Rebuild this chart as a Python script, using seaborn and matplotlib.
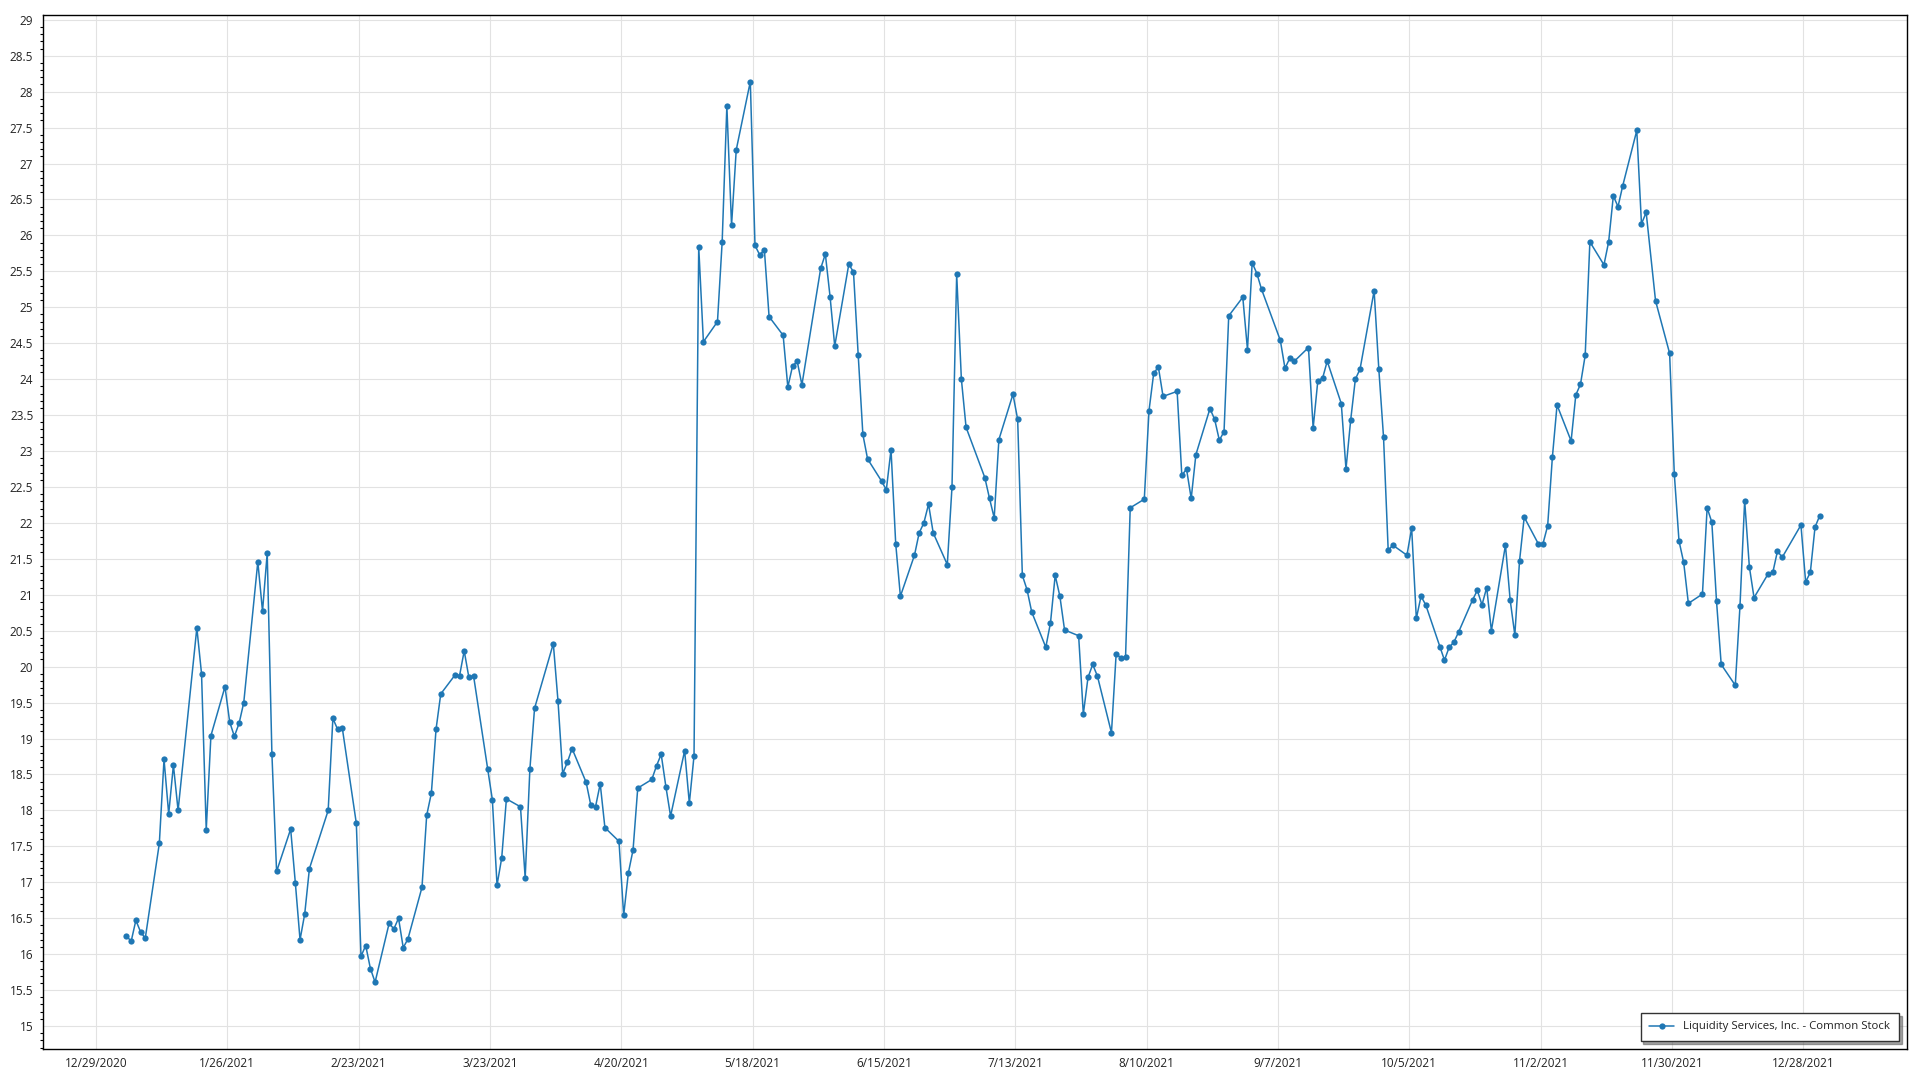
import datetime as dt

import matplotlib
matplotlib.use("Agg")
import matplotlib.pyplot as plt
import matplotlib.dates as mdates
from matplotlib.ticker import FuncFormatter, MultipleLocator
import pandas as pd
import seaborn as sns

SERIES_NAME = "Liquidity Services, Inc. - Common Stock"

# trading days of 2021 (month/day) and closing prices
dates = [
    "1/4", "1/5", "1/6", "1/7", "1/8", "1/11", "1/12", "1/13", "1/14", "1/15",
    "1/19", "1/20", "1/21", "1/22", "1/25", "1/26", "1/27", "1/28", "1/29",
    "2/1", "2/2", "2/3", "2/4", "2/5", "2/8", "2/9", "2/10", "2/11", "2/12",
    "2/16", "2/17", "2/18", "2/19", "2/22", "2/23", "2/24", "2/25", "2/26",
    "3/1", "3/2", "3/3", "3/4", "3/5", "3/8", "3/9", "3/10", "3/11", "3/12",
    "3/15", "3/16", "3/17", "3/18", "3/19", "3/22", "3/23", "3/24", "3/25", "3/26",
    "3/29", "3/30", "3/31",
    "4/1", "4/5", "4/6", "4/7", "4/8", "4/9", "4/12", "4/13", "4/14", "4/15", "4/16",
    "4/19", "4/20", "4/21", "4/22", "4/23", "4/26", "4/27", "4/28", "4/29", "4/30",
    "5/3", "5/4", "5/5", "5/6", "5/7", "5/10", "5/11", "5/12", "5/13", "5/14",
    "5/17", "5/18", "5/19", "5/20", "5/21", "5/24", "5/25", "5/26", "5/27", "5/28",
    "6/1", "6/2", "6/3", "6/4", "6/7", "6/8", "6/9", "6/10", "6/11",
    "6/14", "6/15", "6/16", "6/17", "6/18", "6/21", "6/22", "6/23", "6/24", "6/25",
    "6/28", "6/29", "6/30",
    "7/1", "7/2", "7/6", "7/7", "7/8", "7/9", "7/12", "7/13", "7/14", "7/15", "7/16",
    "7/19", "7/20", "7/21", "7/22", "7/23", "7/26", "7/27", "7/28", "7/29", "7/30",
    "8/2", "8/3", "8/4", "8/5", "8/6", "8/9", "8/10", "8/11", "8/12", "8/13",
    "8/16", "8/17", "8/18", "8/19", "8/20", "8/23", "8/24", "8/25", "8/26", "8/27",
    "8/30", "8/31",
    "9/1", "9/2", "9/3", "9/7", "9/8", "9/9", "9/10", "9/13", "9/14", "9/15", "9/16",
    "9/17", "9/20", "9/21", "9/22", "9/23", "9/24", "9/27", "9/28", "9/29", "9/30",
    "10/1", "10/4", "10/5", "10/6", "10/7", "10/8", "10/11", "10/12", "10/13", "10/14",
    "10/15", "10/18", "10/19", "10/20", "10/21", "10/22", "10/25", "10/26", "10/27",
    "10/28", "10/29",
    "11/1", "11/2", "11/3", "11/4", "11/5", "11/8", "11/9", "11/10", "11/11", "11/12",
    "11/15", "11/16", "11/17", "11/18", "11/19", "11/22", "11/23", "11/24", "11/26",
    "11/29", "11/30",
    "12/1", "12/2", "12/3", "12/6", "12/7", "12/8", "12/9", "12/10", "12/13", "12/14",
    "12/15", "12/16", "12/17", "12/20", "12/21", "12/22", "12/23", "12/27", "12/28",
    "12/29", "12/30", "12/31",
]

prices = [
    16.25, 16.18, 16.47, 16.31, 16.22, 17.54, 18.71, 17.95, 18.63, 18.00,
    20.54, 19.90, 17.73, 19.04, 19.72, 19.23, 19.03, 19.21, 19.50,
    21.46, 20.77, 21.58, 18.79, 17.15, 17.74, 16.99, 16.20, 16.56, 17.19,
    18.00, 19.28, 19.13, 19.15, 17.82, 15.97, 16.12, 15.80, 15.61,
    16.43, 16.35, 16.50, 16.09, 16.21, 16.93, 17.93, 18.24, 19.13, 19.62,
    19.88, 19.87, 20.22, 19.85, 19.87, 18.58, 18.15, 16.96, 17.34, 18.16,
    18.05, 17.06, 18.57,
    19.42, 20.32, 19.52, 18.51, 18.67, 18.86, 18.39, 18.07, 18.05, 18.37, 17.76,
    17.57, 16.54, 17.13, 17.45, 18.31, 18.43, 18.62, 18.78, 18.33, 17.92,
    18.83, 18.10, 18.76, 25.84, 24.52, 24.80, 25.91, 27.80, 26.14, 27.19,
    28.14, 25.86, 25.73, 25.80, 24.87, 24.61, 23.89, 24.18, 24.25, 23.92,
    25.54, 25.74, 25.15, 24.46, 25.60, 25.49, 24.34, 23.23, 22.89,
    22.58, 22.46, 23.02, 21.71, 20.98, 21.55, 21.86, 22.00, 22.26, 21.86,
    21.42, 22.50, 25.46,
    24.00, 23.33, 22.63, 22.34, 22.07, 23.16, 23.79, 23.44, 21.27, 21.07, 20.76,
    20.27, 20.61, 21.27, 20.98, 20.51, 20.43, 19.34, 19.85, 20.03, 19.87,
    19.08, 20.18, 20.12, 20.13, 22.21, 22.33, 23.56, 24.08, 24.17, 23.76,
    23.83, 22.66, 22.75, 22.34, 22.95, 23.59, 23.44, 23.15, 23.27, 24.88,
    25.14, 24.41,
    25.62, 25.47, 25.25, 24.54, 24.15, 24.29, 24.25, 24.44, 23.32, 23.98, 24.01,
    24.25, 23.66, 22.75, 23.43, 24.00, 24.14, 25.23, 24.14, 23.20, 21.62,
    21.69, 21.55, 21.93, 20.67, 20.98, 20.86, 20.28, 20.09, 20.27, 20.34,
    20.48, 20.93, 21.06, 20.86, 21.10, 20.50, 21.69, 20.93, 20.44,
    21.47, 22.08,
    21.71, 21.71, 21.96, 22.91, 23.64, 23.14, 23.78, 23.93, 24.33, 25.91,
    25.59, 25.91, 26.55, 26.40, 26.69, 27.46, 26.16, 26.32, 25.09,
    24.36, 22.68,
    21.75, 21.45, 20.88, 21.01, 22.21, 22.01, 20.91, 20.03, 19.74, 20.84,
    22.31, 21.39, 20.96, 21.29, 21.31, 21.61, 21.52, 21.97, 21.18,
    21.31, 21.94, 22.10,
]

tick_start = "12/29/2020"
tick_end = "12/28/2021"


def main():
    sns.set_theme(style="white")
    plt.rcParams["font.family"] = ["Open Sans", "DejaVu Sans"]

    # quotes are stamped at midday
    df = pd.DataFrame({
        "date": pd.to_datetime([d + "/2021 12:00" for d in dates], format="%m/%d/%Y %H:%M"),
        "price": prices,
    })

    fig = plt.figure(figsize=(19.2, 10.8), dpi=100)
    ax = fig.add_axes([0.0224, 0.0287, 0.9708, 0.9573])

    color = "#1f77b4"
    sns.lineplot(data=df, x="date", y="price", ax=ax, color=color, lw=1.1,
                 marker="o", markersize=4.5, markeredgewidth=0,
                 label=SERIES_NAME)

    # axes ranges
    t0 = pd.to_datetime(tick_start, format="%m/%d/%Y")
    t1 = pd.to_datetime(tick_end, format="%m/%d/%Y")
    ax.set_xlim(t0 - pd.Timedelta(days=11.3), t1 + pd.Timedelta(days=22.1))
    ax.set_ylim(14.68, 29.065)

    xticks = pd.date_range(t0, t1, freq="28D")
    ax.set_xticks(xticks)
    ax.xaxis.set_major_formatter(FuncFormatter(
        lambda v, _: (lambda d: f"{d.month}/{d.day}/{d.year}")(mdates.num2date(v))))
    ax.yaxis.set_major_locator(MultipleLocator(0.5))
    ax.yaxis.set_minor_locator(MultipleLocator(0.1))
    ax.yaxis.set_major_formatter(FuncFormatter(lambda v, _: f"{v:g}"))

    ax.grid(True, which="major", color="#e2e2e2", lw=0.8)
    ax.set_axisbelow(True)
    for s in ax.spines.values():
        s.set_visible(True)
        s.set_color("black")
        s.set_linewidth(1.0)

    ax.tick_params(axis="both", which="major", direction="out", length=4, width=0.8,
                   color="black", labelsize=8.5, labelcolor="#222222", pad=3)
    ax.tick_params(axis="y", which="minor", direction="out", length=2.2, width=0.8,
                   color="black", left=True)
    ax.tick_params(axis="x", which="major", pad=2)
    ax.set_xlabel("")
    ax.set_ylabel("")

    leg = ax.legend(loc="lower right", frameon=True, fancybox=False, shadow=True,
                    fontsize=8.2, borderaxespad=0.7, handlelength=2.2,
                    borderpad=0.75, labelcolor="#222222")
    leg.get_frame().set_edgecolor("#333333")
    leg.get_frame().set_linewidth(1.0)
    leg.get_frame().set_facecolor("white")

    fig.savefig("out.png", dpi=100)
    plt.close(fig)


if __name__ == "__main__":
    main()
